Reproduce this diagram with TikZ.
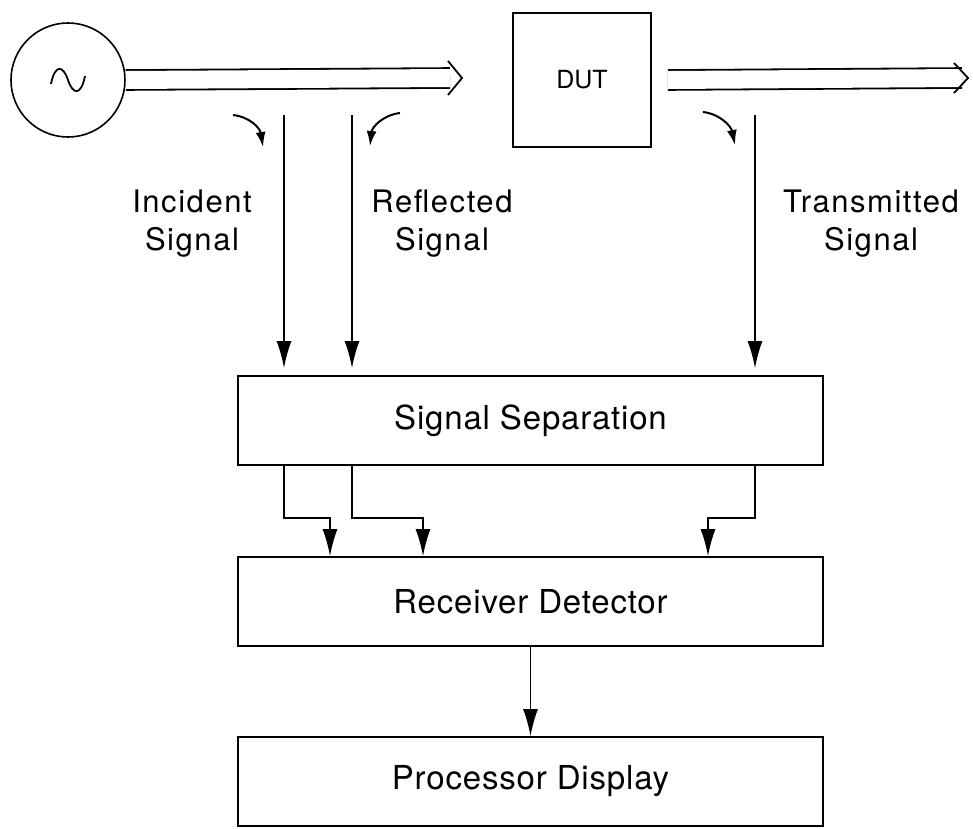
\documentclass[tikz,border=0pt]{standalone}
\usepackage{fontspec}
\setmainfont{TeX Gyre Heros}
\newfontfamily\labelfont[LetterSpace=5]{TeX Gyre Heros}
\newfontfamily\blockfont[LetterSpace=2.5]{TeX Gyre Heros}
\usetikzlibrary{arrows.meta}

\begin{document}
\begin{tikzpicture}[x=1pt, y=-1pt,
  block/.style={draw, line width=1.8pt, minimum width=585pt, minimum height=89pt, inner sep=0pt, font=\blockfont\fontsize{33}{40}\selectfont},
  sig/.style={line width=1.6pt, -{Latex[length=27pt,width=15pt]}},
  tap/.style={line width=2pt, -{Latex[length=15pt,width=10pt]}},
  feed/.style={double, double distance=18pt, line width=1.8pt},
  tag/.style={align=center, inner sep=0pt, font=\labelfont\fontsize{31}{38}\selectfont}]

  % Page frame
  \useasboundingbox (0,0) rectangle (973,828);

  % Source and device under test
  \node[circle, draw, line width=1.6pt, minimum size=114pt, inner sep=0pt] (src) at (68,80) {};
  \draw[line width=1.8pt] (51,84) .. controls (55,64) and (63,65) .. (68,80) .. controls (73,95) and (81,96) .. (85,76);
  \node[draw, line width=1.8pt, minimum width=138pt, minimum height=134pt, font=\fontsize{25}{30}\selectfont] (dut) at (582,80) {DUT};

  % Blocks of the analyzer
  \node[block] (sep) at (530.5,420.5) {Signal Separation};
  \node[block] (rcv) at (530.5,601.5) {Receiver Detector};
  \node[block] (proc) at (530.5,781.5) {Processor Display};

  % Transmission lines with open heads
  \coordinate (fwd) at (450,78);
  \coordinate (out) at (962,78);
  \draw[feed] (src.east) -- (fwd);
  \draw[line width=1.8pt] (fwd) ++(-2,-17) -- ++(14,17) -- ++(-14,17);
  \draw[feed] ([xshift=16pt]dut.east) -- (out);
  \draw[line width=1.8pt] (out) ++(-8,-15) -- ++(14,15) -- ++(-14,15);

  % Couplers
  \coordinate (inc) at (284,115);
  \coordinate (ref) at (352,115);
  \coordinate (trn) at (755,115);
  \draw[tap] (233,115) .. controls (250,117) and (260,128) .. (263,147);
  \draw[tap] (400,113) .. controls (383,115) and (372,127) .. (370,146);
  \draw[tap] (703,112) .. controls (720,114) and (731,126) .. (735,145);

  % Sampled signals into the separation block
  \draw[sig, shorten >=7pt] (inc) -- (inc |- sep.north);
  \draw[sig, shorten >=7pt] (ref) -- (ref |- sep.north);
  \draw[sig, shorten >=7pt] (trn) -- (trn |- sep.north);

  % Labels
  \node[tag] (inclab) at (192,224) {Incident\\Signal};
  \node[tag] (reflab) at (442,224) {Reflected\\Signal};
  \node[tag] (trnlab) at (871,224) {Transmitted\\Signal};

  % Separation to receiver
  \draw[sig] (inc |- sep.south) |- (330,518) -- (330,0 |- rcv.north);
  \draw[sig] (ref |- sep.south) |- (423,518) -- (423,0 |- rcv.north);
  \draw[sig] (trn |- sep.south) |- (708,518) -- (708,0 |- rcv.north);

  % Receiver to display
  \draw[sig] (rcv.south) -- (proc.north);
\end{tikzpicture}
\end{document}
